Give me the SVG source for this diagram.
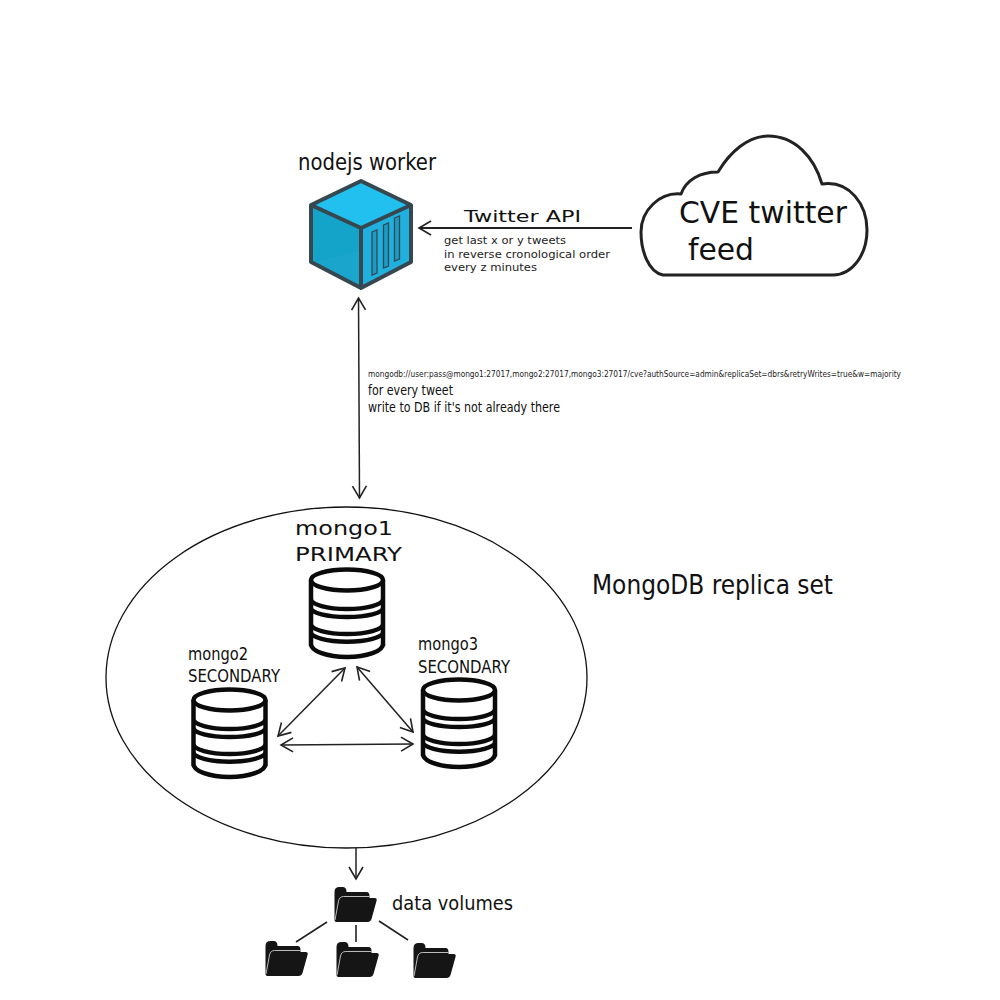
<svg xmlns="http://www.w3.org/2000/svg" xmlns:xlink="http://www.w3.org/1999/xlink" width="1000" height="1000" viewBox="0 0 1000 1000">
<style>
text{font-family:"DejaVu Sans","Liberation Sans",sans-serif;fill:#111}
.small{fill:#222}
.conn{fill:none;stroke:#222;stroke-width:1.5}
.tree{fill:none;stroke:#222;stroke-width:1.6}
.db{fill:#fff;stroke:#0a0a0a;stroke-width:4.5;stroke-linejoin:round}
.dbl{fill:none;stroke:#0a0a0a;stroke-width:4.5}
.fd{fill:#151515}
.fl{fill:none;stroke:#bbb;stroke-width:1}
</style>
<defs>
<marker id="arrow" viewBox="-14 -9 16 18" markerUnits="userSpaceOnUse" markerWidth="16" markerHeight="18" refX="0" refY="0" orient="auto-start-reverse"><path d="M-12 -7L0 0L-12 7" fill="none" stroke="#222" stroke-width="1.6"/></marker>
<g id="dbicon">
<path class="dbl" d="M-36 0V66M36 0V66M-36 19A36 10 0 0 0 36 19M-36 28A36 9 0 0 0 36 28M-36 44A36 10 0 0 0 36 44M-36 52A36 9.700 0 0 0 36 52M-36 64A36 13 0 0 0 36 64"/>
<ellipse class="db" cx="0" cy="0" rx="36" ry="10.500"/>
</g>
<g id="folder">
<path class="fd" d="M1 5Q1 0 6 0H9Q13 0 13 5H33Q36 5 36 9V14H8L6 35H3Q1 35 1 33Z"/>
<path class="fd" d="M8 11H41Q44 11 43 14L38 32Q37 35 34 35H4Q2 35 3 32L6 14Q7 11 8 11Z"/>
<path class="fl" d="M1.500 33L5 14Q6 9.500 10 9.500H36"/>
</g>
</defs>
<rect width="1000" height="1000" fill="#fff"/>
<g id="connectors">
<line class="conn" style="stroke-width:2" x1="632" y1="228" x2="419" y2="228" marker-end="url(#arrow)"/>
<line class="conn" x1="358.500" y1="298" x2="359.500" y2="498" marker-start="url(#arrow)" marker-end="url(#arrow)"/>
<line class="conn" x1="345" y1="668" x2="278" y2="736" marker-start="url(#arrow)" marker-end="url(#arrow)"/>
<line class="conn" x1="357" y1="667" x2="413" y2="732" marker-start="url(#arrow)" marker-end="url(#arrow)"/>
<line class="conn" x1="281" y1="745" x2="413" y2="744" marker-start="url(#arrow)" marker-end="url(#arrow)"/>
<line class="conn" x1="356" y1="848" x2="356" y2="879" marker-end="url(#arrow)"/>
<line class="tree" x1="327" y1="922" x2="296" y2="942"/>
<line class="tree" x1="356" y1="925" x2="356" y2="942"/>
<line class="tree" x1="379" y1="921" x2="408" y2="940"/>
</g>
<g id="worker">
<text x="298" y="170" font-size="23" textLength="138" lengthAdjust="spacingAndGlyphs">nodejs worker</text>
<path d="M361 181L411 205V262L361 288L311 262V205Z" fill="#1aa5cc"/>
<path d="M361 181L411 205L361 228L311 205Z" fill="#22c0ee"/>
<path d="M361 228L411 205V262L361 288Z" fill="#1fb0de"/>
<path d="M311 205L361 228V250L315 262Z" fill="#14a3c9"/>
<path d="M361 181L411 205V262L361 288L311 262V205ZM311 205L361 228L411 205M361 228V288" fill="none" stroke="#37474f" stroke-width="4" stroke-linejoin="round"/>
<path d="M372 232L377 230V273L372 275ZM383.500 225L388.500 223V266L383.500 268ZM394.500 218L399.500 216V259L394.500 261Z" fill="#1a9cc4" stroke="#37474f" stroke-width="1.300"/>
</g>
<g id="twitter-label">
<text x="464" y="222" font-size="16" textLength="117" lengthAdjust="spacingAndGlyphs">Twitter API</text>
<text class="small" x="444" y="244" font-size="11" textLength="122" lengthAdjust="spacingAndGlyphs">get last x or y tweets</text>
<text class="small" x="444" y="258" font-size="11" textLength="166" lengthAdjust="spacingAndGlyphs">in reverse cronological order</text>
<text class="small" x="444" y="271" font-size="11" textLength="93" lengthAdjust="spacingAndGlyphs">every z minutes</text>
</g>
<g id="cloud">
<path d="M663 275C648 272 641 250 641 232C641 210 660 192 681 194C686 180 700 172 718 172C730 152 748 136 768 136C795 136 814 157 822 184C850 180 867 205 867 230C867 255 852 275 833 275Z" fill="#fff" stroke="#222" stroke-width="3" stroke-linejoin="round"/>
<text x="679" y="223" font-size="30" textLength="168" lengthAdjust="spacingAndGlyphs">CVE twitter</text>
<text x="688" y="260" font-size="30" textLength="66" lengthAdjust="spacingAndGlyphs">feed</text>
</g>
<g id="connection-label">
<text class="small" x="368" y="377" font-size="8" textLength="533" lengthAdjust="spacingAndGlyphs">mongodb://user:pass@mongo1:27017,mongo2:27017,mongo3:27017/cve?authSource=admin&amp;replicaSet=dbrs&amp;retryWrites=true&amp;w=majority</text>
<text x="368" y="394.500" font-size="13.500" textLength="85" lengthAdjust="spacingAndGlyphs">for every tweet</text>
<text x="368" y="411.500" font-size="13.500" textLength="192" lengthAdjust="spacingAndGlyphs">write to DB if it's not already there</text>
</g>
<g id="replica-set">
<ellipse cx="346.500" cy="677.500" rx="240.500" ry="170.500" fill="none" stroke="#111" stroke-width="1.300"/>
<text x="592" y="594" font-size="27" textLength="241" lengthAdjust="spacingAndGlyphs">MongoDB replica set</text>
</g>
<g id="mongo1">
<text x="295" y="535" font-size="20" textLength="98" lengthAdjust="spacingAndGlyphs">mongo1</text>
<text x="295" y="561" font-size="20" textLength="107" lengthAdjust="spacingAndGlyphs">PRIMARY</text>
<use href="#dbicon" x="347" y="580"/>
</g>
<g id="mongo2">
<text x="188" y="660" font-size="18" textLength="60" lengthAdjust="spacingAndGlyphs">mongo2</text>
<text x="188" y="682" font-size="18" textLength="92" lengthAdjust="spacingAndGlyphs">SECONDARY</text>
<use href="#dbicon" x="229.500" y="700"/>
</g>
<g id="mongo3">
<text x="418" y="650" font-size="18" textLength="60" lengthAdjust="spacingAndGlyphs">mongo3</text>
<text x="418" y="673" font-size="18" textLength="92" lengthAdjust="spacingAndGlyphs">SECONDARY</text>
<use href="#dbicon" x="459" y="690"/>
</g>
<g id="data-volumes">
<use href="#folder" x="333.500" y="887"/>
<use href="#folder" x="264.500" y="941"/>
<use href="#folder" x="335.500" y="942"/>
<use href="#folder" x="412.500" y="943"/>
<text x="392" y="910" font-size="19.500" textLength="121" lengthAdjust="spacingAndGlyphs">data volumes</text>
</g>
</svg>
